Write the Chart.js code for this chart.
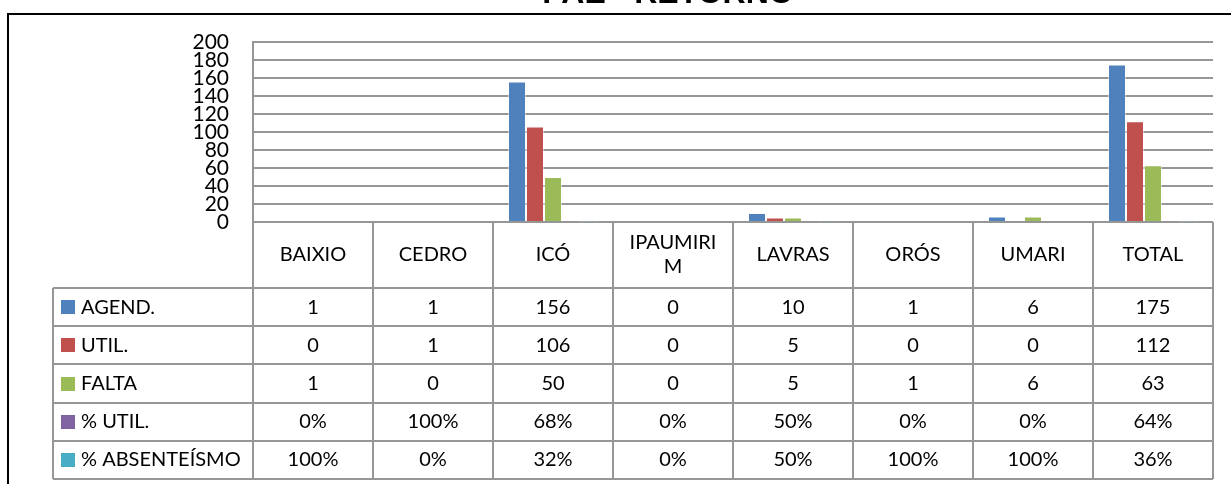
<!DOCTYPE html>
<html>
<head>
<meta charset="utf-8">
<script src="https://cdn.jsdelivr.net/npm/chart.js@4/dist/chart.umd.min.js"></script>
<style>
  html, body { margin: 0; padding: 0; background: #fff; }
  #wrap { position: relative; width: 1231px; height: 484px; }
</style>
</head>
<body>
<div id="wrap"><canvas id="chart"></canvas></div>
<script>
// Dữ liệu
const title = 'PAE - RETORNO';
const categories = ['BAIXIO', 'CEDRO', 'ICÓ', ['IPAUMIRI', 'M'], 'LAVRAS', 'ORÓS', 'UMARI', 'TOTAL'];
const seriesNames = ['AGEND.', 'UTIL.', 'FALTA', '% UTIL.', '% ABSENTEÍSMO'];
const agend = [1, 1, 156, 0, 10, 1, 6, 175];
const util = [0, 1, 106, 0, 5, 0, 0, 112];
const falta = [1, 0, 50, 0, 5, 1, 6, 63];
const pctUtil = [0, 1, 0.68, 0, 0.5, 0, 0, 0.64];
const pctAbsent = [1, 0, 0.32, 0, 0.5, 1, 1, 0.36];
const yTicks = [0, 20, 40, 60, 80, 100, 120, 140, 160, 180, 200];

const colors = ['#4F81BD', '#C0504D', '#9BBB59', '#8064A2', '#4BACC6'];
const allSeries = [agend, util, falta, pctUtil, pctAbsent];
const isPercent = [false, false, false, true, true];

const lineColor = '#969696';
const textFont = '20px Lato, "Open Sans", sans-serif';

// Khung ngoài + tiêu đề
const framePlugin = {
    id: 'frame',
    beforeDraw(chart) {
        const ctx = chart.ctx;
        ctx.save();
        ctx.fillStyle = '#fff';
        ctx.fillRect(0, 0, chart.width, chart.height);
        ctx.strokeStyle = '#000';
        ctx.lineWidth = 2;
        ctx.beginPath();
        ctx.moveTo(8, chart.height);
        ctx.lineTo(8, 14);
        ctx.lineTo(chart.width, 14);
        ctx.stroke();
        ctx.fillStyle = '#000';
        ctx.font = 'bold 32px "Liberation Sans", Arial, sans-serif';
        ctx.textAlign = 'center';
        ctx.textBaseline = 'alphabetic';
        ctx.fillText(title, 668, 3);
        ctx.restore();
    }
};

// Bảng dữ liệu bên dưới biểu đồ
const tablePlugin = {
    id: 'dataTable',
    afterDraw(chart) {
        const ctx = chart.ctx;
        const xs = chart.scales.x;
        const area = chart.chartArea;
        const colW = xs.getPixelForValue(1) - xs.getPixelForValue(0);
        const top = Math.round(area.bottom);
        const headBottom = top + 66;
        const rowH = 38.2;
        const legendLeft = 53;
        const bottom = Math.round(headBottom + rowH * allSeries.length);

        ctx.save();
        ctx.strokeStyle = lineColor;
        ctx.lineWidth = 2;
        ctx.beginPath();
        // đường dọc giữa các cột
        for (let i = 0; i <= categories.length; i++) {
            const x = Math.round(xs.getPixelForValue(i) - colW / 2);
            ctx.moveTo(x, top);
            ctx.lineTo(x, bottom);
        }
        // đường ngang
        for (let r = 0; r <= allSeries.length; r++) {
            const y = Math.round(headBottom + rowH * r);
            ctx.moveTo(legendLeft, y);
            ctx.lineTo(area.right, y);
        }
        ctx.moveTo(legendLeft, headBottom);
        ctx.lineTo(legendLeft, bottom);
        ctx.stroke();

        ctx.fillStyle = '#000';
        ctx.font = textFont;
        ctx.textAlign = 'center';
        ctx.textBaseline = 'middle';
        // tiêu đề cột
        categories.forEach((label, i) => {
            const cx = xs.getPixelForValue(i);
            const lines = Array.isArray(label) ? label : [label];
            const mid = (top + headBottom) / 2;
            lines.forEach((ln, k) => {
                ctx.fillText(ln, cx, mid + (k - (lines.length - 1) / 2) * 24);
            });
        });
        // các hàng
        allSeries.forEach((data, r) => {
            const cy = headBottom + rowH * (r + 0.5);
            ctx.fillStyle = colors[r];
            ctx.fillRect(61, Math.round(cy - 7), 14, 14);
            ctx.fillStyle = '#000';
            ctx.textAlign = 'left';
            ctx.fillText(seriesNames[r], 81, cy);
            ctx.textAlign = 'center';
            data.forEach((v, i) => {
                const txt = isPercent[r] ? Math.round(v * 100) + '%' : String(v);
                ctx.fillText(txt, xs.getPixelForValue(i), cy);
            });
        });
        ctx.restore();
    }
};

const ctx = document.getElementById('chart').getContext('2d');
new Chart(ctx, {
    type: 'bar',
    data: {
        labels: categories,
        datasets: allSeries.map((data, i) => ({
            label: seriesNames[i],
            data: data,
            backgroundColor: colors[i],
            borderColor: 'rgba(255,255,255,0.45)',
            borderWidth: 1,
            categoryPercentage: 0.75,
            barPercentage: 1.0
        }))
    },
    options: {
        responsive: true,
        maintainAspectRatio: false,
        animation: false,
        layout: { padding: { left: 0, top: 42, right: 18, bottom: 262 } },
        plugins: {
            legend: { display: false },
            title: { display: false },
            tooltip: { enabled: false }
        },
        scales: {
            x: { display: false },
            y: {
                min: 0,
                max: 200,
                afterFit(scale) { scale.width = 253; },
                afterBuildTicks(scale) { scale.ticks = yTicks.map(v => ({ value: v })); },
                grid: { color: lineColor, lineWidth: 2, drawTicks: false },
                border: { display: true, color: lineColor, width: 2 },
                ticks: {
                    autoSkip: false,
                    padding: 24,
                    color: '#000',
                    font: { family: 'Lato, "Open Sans", sans-serif', size: 21, lineHeight: 1 }
                }
            }
        }
    },
    plugins: [framePlugin, tablePlugin]
});
</script>
</body>
</html>
